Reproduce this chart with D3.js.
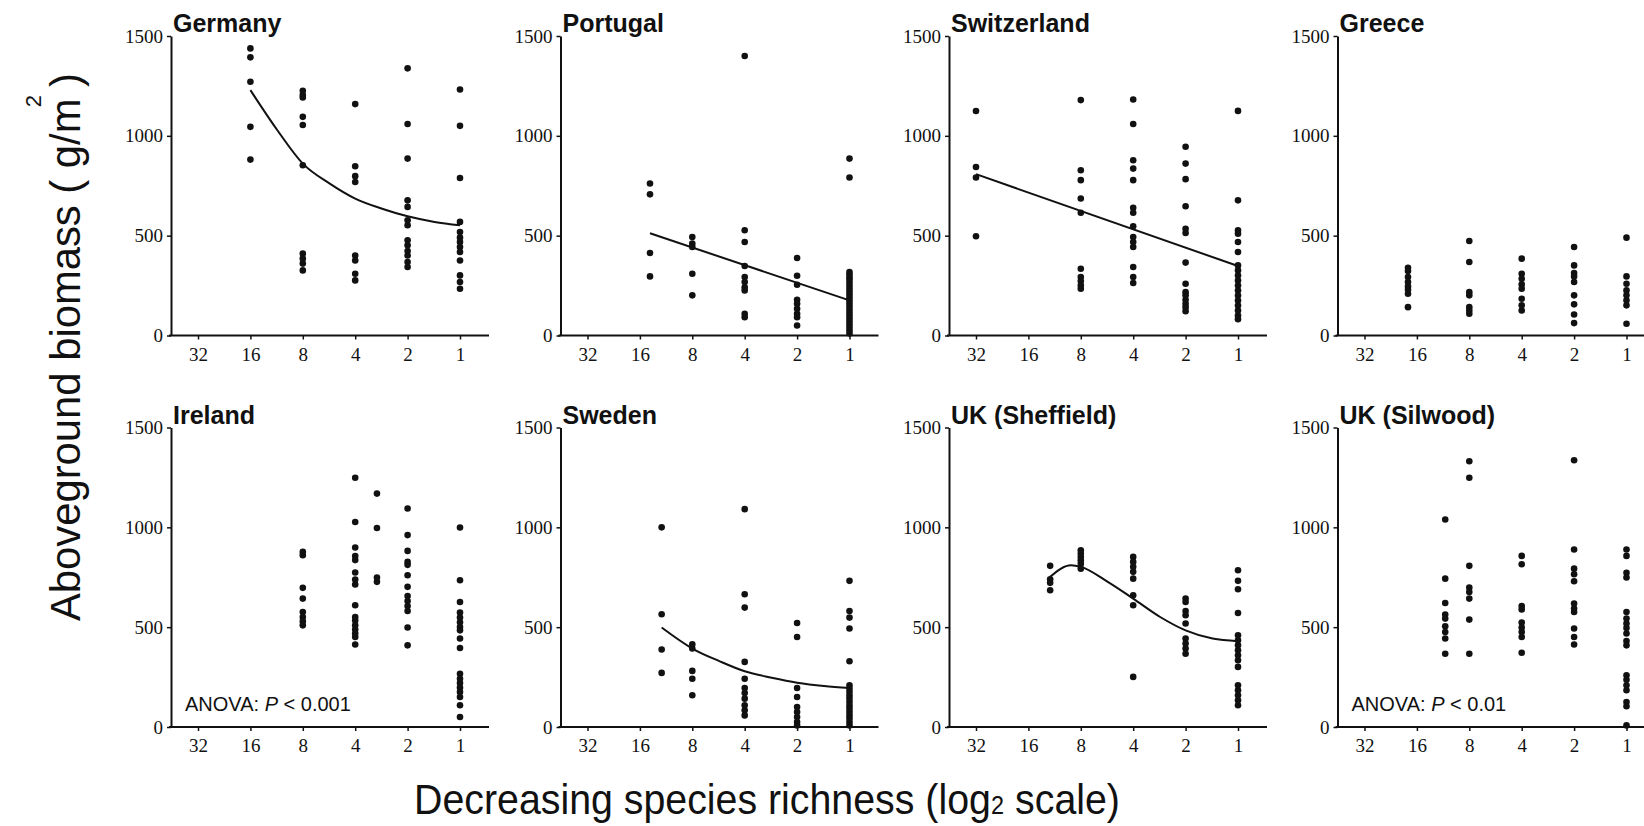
<!DOCTYPE html>
<html>
<head>
<meta charset="utf-8">
<script src="https://cdn.jsdelivr.net/npm/d3@7"></script>
<style>
  body { margin: 0; background: #fff; }
  svg { display: block; }
</style>
</head>
<body>
<svg id="chart" width="1644" height="826"></svg>
<script>
// Species richness ticks (log2 axis, decreasing to the right) and biomass ticks
const xTicks = [32, 16, 8, 4, 2, 1];
const yTicks = [0, 500, 1000, 1500];

const panelNames = ["Germany", "Portugal", "Switzerland", "Greece",
                    "Ireland", "Sweden", "UK (Sheffield)", "UK (Silwood)"];

// Plot-level biomass, [species richness, g/m2]
const germanyPts = [
  [16,1438],[16,1393],[16,1271],[16,1045],[16,881],
  [8,1226],[8,1204],[8,1192],[8,1095],[8,1054],[8,853],[8,410],[8,385],[8,360],[8,326],
  [4,1159],[4,848],[4,798],[4,769],[4,401],[4,376],[4,309],[4,276],
  [2,1338],[2,1059],[2,886],[2,677],[2,644],[2,577],[2,552],[2,477],[2,452],[2,423],[2,401],[2,368],[2,343],
  [1,1232],[1,1050],[1,789],[1,569],[1,518],[1,490],[1,468],[1,443],[1,418],[1,376],[1,301],[1,268],[1,234]
];
const portugalPts = [
  [14,761],[14,707],[14,413],[14,296],
  [8,493],[8,460],[8,443],[8,309],[8,201],
  [4,1400],[4,527],[4,468],[4,348],[4,293],[4,268],[4,242],[4,226],[4,109],[4,92],
  [2,388],[2,299],[2,254],[2,179],[2,159],[2,134],[2,109],[2,92],[2,50],
  [1,886],[1,791],[1,318],[1,305],[1,292],[1,280],[1,265],[1,250],[1,235],[1,220],[1,205],[1,190],
  [1,175],[1,160],[1,145],[1,130],[1,115],[1,100],[1,85],[1,70],[1,55],[1,40],[1,25],[1,10]
];
const switzerlandPts = [
  [32,1124],[32,844],[32,791],[32,497],
  [8,1179],[8,828],[8,778],[8,686],[8,615],[8,334],[8,293],[8,273],[8,251],[8,234],
  [4,1182],[4,1059],[4,878],[4,836],[4,778],[4,640],[4,615],[4,547],[4,493],[4,468],[4,443],[4,343],[4,293],[4,263],
  [2,945],[2,861],[2,783],[2,647],[2,535],[2,513],[2,365],[2,259],[2,217],[2,201],[2,179],[2,159],[2,142],[2,122],
  [1,1125],[1,677],[1,527],[1,510],[1,468],[1,418],[1,351],[1,326],[1,300],[1,275],[1,250],[1,225],
  [1,200],[1,175],[1,150],[1,125],[1,100],[1,82]
];
const greecePts = [
  [18,339],[18,323],[18,293],[18,268],[18,246],[18,229],[18,209],[18,142],
  [8,473],[8,368],[8,217],[8,201],[8,142],[8,125],[8,109],
  [4,385],[4,309],[4,284],[4,256],[4,234],[4,184],[4,151],[4,125],
  [2,443],[2,351],[2,313],[2,296],[2,268],[2,201],[2,156],[2,105],[2,62],
  [1,490],[1,296],[1,259],[1,226],[1,201],[1,176],[1,151],[1,59]
];
const irelandPts = [
  [8,877],[8,860],[8,697],[8,643],[8,576],[8,551],[8,529],[8,509],
  [4,1248],[4,1027],[4,899],[4,856],[4,836],[4,774],[4,739],[4,714],[4,610],[4,551],[4,534],[4,509],
  [4,488],[4,468],[4,451],[4,413],
  [3,1169],[3,997],[3,749],[3,727],
  [2,1094],[2,961],[2,882],[2,827],[2,812],[2,760],[2,702],[2,656],[2,631],[2,606],[2,581],[2,498],[2,409],
  [1,999],[1,735],[1,626],[1,573],[1,548],[1,524],[1,501],[1,484],[1,443],[1,396],[1,267],[1,242],
  [1,220],[1,197],[1,175],[1,150],[1,109],[1,50]
];
const swedenPts = [
  [12,1000],[12,565],[12,388],[12,271],
  [8,414],[8,393],[8,281],[8,242],[8,159],
  [4,1091],[4,665],[4,598],[4,326],[4,242],[4,195],[4,170],[4,142],[4,109],[4,84],[4,58],
  [2,521],[2,451],[2,195],[2,150],[2,100],[2,75],[2,50],[2,25],[2,8],
  [1,732],[1,581],[1,548],[1,493],[1,329],[1,209],[1,192],[1,175],[1,158],[1,142],[1,125],[1,108],
  [1,92],[1,75],[1,58],[1,42],[1,25],[1,8]
];
const sheffieldPts = [
  [12,807],[12,740],[12,722],[12,685],
  [8,885],[8,869],[8,852],[8,835],[8,818],[8,793],
  [4,852],[4,827],[4,802],[4,777],[4,743],[4,660],[4,610],[4,251],
  [2,643],[2,626],[2,581],[2,560],[2,518],[2,443],[2,418],[2,393],[2,367],
  [1,785],[1,732],[1,690],[1,571],[1,459],[1,434],[1,409],[1,384],[1,359],[1,334],[1,301],
  [1,209],[1,184],[1,159],[1,134],[1,109]
];
const silwoodPts = [
  [11,1039],[11,743],[11,621],[11,563],[11,543],[11,504],[11,476],[11,443],[11,367],
  [8,1331],[8,1248],[8,807],[8,698],[8,676],[8,643],[8,538],[8,367],
  [4,857],[4,815],[4,606],[4,589],[4,523],[4,498],[4,476],[4,451],[4,372],
  [2,1336],[2,889],[2,793],[2,765],[2,730],[2,618],[2,593],[2,576],[2,493],[2,451],[2,413],
  [1,889],[1,857],[1,772],[1,749],[1,576],[1,543],[1,518],[1,496],[1,468],[1,431],[1,409],
  [1,259],[1,237],[1,209],[1,184],[1,125],[1,104],[1,8]
];

// Fitted regression curves, sampled along richness
const germanyFit     = [[16,1229],[11.2,1028],[8,861],[5.6,761],[4,686],[2.8,635],[2,597],[1.4,569],[1,552]];
const portugalFit    = [[14,512],[1,176]];
const switzerlandFit = [[32,808],[1,348]];
const swedenFit      = [[12,498],[8,393],[5.6,330],[4,279],[2.8,247],[2,222],[1.4,205],[1,195]];
const sheffieldFit   = [[12,752],[9.1,810],[8,802],[5.6,727],[4,643],[2.8,551],[2,484],[1.4,443],[1,430]];

// Annotations
const irelandNote = "P < 0.001";
const silwoodNote = "P < 0.01";

const panels = [
  { name: panelNames[0], pts: germanyPts,     fit: germanyFit },
  { name: panelNames[1], pts: portugalPts,    fit: portugalFit },
  { name: panelNames[2], pts: switzerlandPts, fit: switzerlandFit },
  { name: panelNames[3], pts: greecePts,      fit: null },
  { name: panelNames[4], pts: irelandPts,     fit: null, note: irelandNote },
  { name: panelNames[5], pts: swedenPts,      fit: swedenFit },
  { name: panelNames[6], pts: sheffieldPts,   fit: sheffieldFit },
  { name: panelNames[7], pts: silwoodPts,     fit: null, note: silwoodNote }
];

const svg = d3.select("#chart");
const ink = "#111";
const serif = "'Liberation Serif', 'Times New Roman', serif";
const sans = "'Liberation Sans', Arial, sans-serif";

// Panel grid geometry
const colX = [171, 560.5, 949, 1337.5];
const rowY = [36, 427.5];
const plotH = 299.5;
const axisLen = 318;

const x = d3.scaleLog().base(2).domain([32, 1]).range([27, 289]);
const y = d3.scaleLinear().domain([0, 1500]).range([plotH, 0]);

const line = d3.line()
  .x(d => x(d[0]))
  .y(d => y(d[1]))
  .curve(d3.curveMonotoneX);

panels.forEach((p, i) => {
  const g = svg.append("g")
    .attr("transform", `translate(${colX[i % 4]},${rowY[Math.floor(i / 4)]})`);

  // y axis
  const ya = g.append("g")
    .call(d3.axisLeft(y).tickValues(yTicks).tickFormat(d3.format("d"))
      .tickSize(4).tickSizeOuter(0).tickPadding(4));
  ya.select(".domain").attr("stroke", ink).attr("stroke-width", 2);
  ya.selectAll(".tick line").attr("stroke", ink).attr("stroke-width", 1.5);
  ya.selectAll(".tick text")
    .attr("fill", ink)
    .style("font-family", serif)
    .style("font-size", "19px");

  // x axis
  const xa = g.append("g")
    .attr("transform", `translate(0,${plotH})`)
    .call(d3.axisBottom(x).tickValues(xTicks).tickFormat(d3.format("d"))
      .tickSize(4).tickPadding(8));
  xa.select(".domain").remove();
  xa.append("line")
    .attr("x1", -2).attr("x2", axisLen)
    .attr("stroke", ink).attr("stroke-width", 2);
  xa.selectAll(".tick line").attr("stroke", ink).attr("stroke-width", 1.5);
  xa.selectAll(".tick text")
    .attr("fill", ink)
    .style("font-family", serif)
    .style("font-size", "19px");

  // fitted curve
  if (p.fit) {
    g.append("path")
      .datum(p.fit)
      .attr("d", line)
      .attr("fill", "none")
      .attr("stroke", ink)
      .attr("stroke-width", 2);
  }

  // plots
  g.selectAll("circle.pt")
    .data(p.pts)
    .join("circle")
    .attr("class", "pt")
    .attr("cx", d => x(d[0]))
    .attr("cy", d => y(d[1]))
    .attr("r", 3.3)
    .attr("fill", ink);

  // panel title
  g.append("text")
    .attr("x", 2)
    .attr("y", -4)
    .attr("fill", ink)
    .style("font-family", sans)
    .style("font-weight", "bold")
    .style("font-size", "25px")
    .text(p.name);

  // ANOVA note
  if (p.note) {
    const t = g.append("text")
      .attr("x", 14)
      .attr("y", plotH - 16)
      .attr("fill", ink)
      .style("font-family", sans)
      .style("font-size", "20px");
    t.append("tspan").text("ANOVA: ");
    t.append("tspan").style("font-style", "italic").text(p.note.split(" ")[0]);
    t.append("tspan").text(" " + p.note.split(" ").slice(1).join(" "));
  }
});

// y axis title
svg.append("text")
  .attr("transform", "translate(80,621) rotate(-90)")
  .attr("fill", ink)
  .attr("textLength", 548)
  .attr("lengthAdjust", "spacingAndGlyphs")
  .style("font-family", sans)
  .style("font-size", "42px")
  .text("Aboveground biomass ( g/m   )");
svg.append("text")
  .attr("transform", "translate(41,101) rotate(-90)")
  .attr("text-anchor", "middle")
  .attr("fill", ink)
  .style("font-family", sans)
  .style("font-size", "22px")
  .text("2");

// x axis title: pieces laid end to end, then squeezed horizontally to the printed width
const titleParts = [
  { s: "Decreasing species richness (log", size: 42 },
  { s: "2", size: 25 },
  { s: " scale)", size: 42 }
];
const xt = svg.append("g");
let cursor = 0;
titleParts.forEach(part => {
  const t = xt.append("text")
    .attr("x", cursor)
    .attr("y", 0)
    .attr("fill", ink)
    .attr("xml:space", "preserve")
    .style("white-space", "pre")
    .style("font-family", sans)
    .style("font-size", part.size + "px")
    .text(part.s);
  cursor += t.node().getComputedTextLength();
});
const sx = 706 / cursor;
xt.attr("transform", `translate(414,814) scale(${sx},1)`);
</script>
</body>
</html>
